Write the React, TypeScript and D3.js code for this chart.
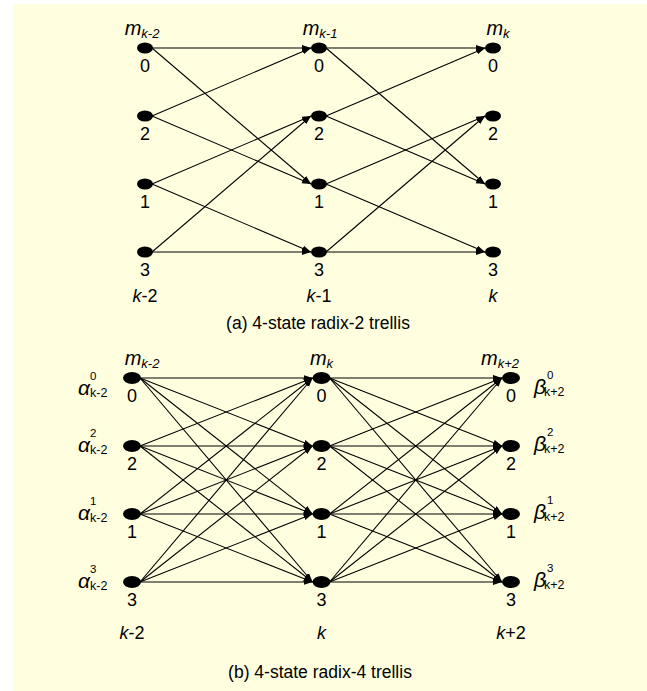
import { useEffect } from "react";
import * as d3 from "d3";

// trellis rows, top to bottom
const states = ["0", "2", "1", "3"];

// (a) radix-2
const radix2Steps = ["k-2", "k-1", "k"];
const radix2Edges: [string, string][] = [
  ["0", "0"],
  ["0", "1"],
  ["2", "0"],
  ["2", "1"],
  ["1", "2"],
  ["1", "3"],
  ["3", "2"],
  ["3", "3"],
];

// (b) radix-4, every state to every state
const radix4Steps = ["k-2", "k", "k+2"];
const radix4Edges: [string, string][] = states.flatMap((a) =>
  states.map((b) => [a, b] as [string, string])
);

const captionA = "(a) 4-state radix-2 trellis";
const captionB = "(b) 4-state radix-4 trellis";

const FONT = "'Liberation Sans', Arial, Helvetica, sans-serif";

const W = 647;
const H = 691;

// split "k-2" into italic k and the rest
function StepLabel({ x, y, s }: { x: number; y: number; s: string }) {
  return (
    <text x={x} y={y} textAnchor="middle" fontSize={18} fontFamily={FONT}>
      <tspan fontStyle="italic">k</tspan>
      <tspan>{s.slice(1)}</tspan>
    </text>
  );
}

function MLabel({ x, y, s }: { x: number; y: number; s: string }) {
  return (
    <text x={x} y={y} textAnchor="middle" fontFamily={FONT} fontStyle="italic">
      <tspan fontSize={20}>m</tspan>
      <tspan fontSize={13} dy={3}>
        {s}
      </tspan>
    </text>
  );
}

// greek letter with superscript state and subscript step, one text element
function MetricLabel(props: {
  x: number;
  base: number;
  letter: string;
  sup: string;
  sub: string;
  supDx: number;
  subDx: number;
}) {
  const { x, base } = props;
  return (
    <text x={x} y={base - 2} fontFamily={FONT}>
      <tspan fontSize={21} fontStyle="italic">
        {props.letter}
      </tspan>
      <tspan x={x + props.supDx} y={base - 17} fontSize={11.5}>
        {props.sup}
      </tspan>
      <tspan x={x + props.subDx} y={base} fontSize={12.5}>
        {props.sub}
      </tspan>
    </text>
  );
}

function Trellis(props: {
  steps: string[];
  edges: [string, string][];
  xRange: [number, number];
  yRange: [number, number];
  rx: number;
  ry: number;
  mDx: number[];
  stepY: number;
  caption: string;
  captionX: number;
  captionY: number;
}) {
  const x = d3.scalePoint<string>().domain(props.steps).range(props.xRange);
  const y = d3.scalePoint<string>().domain(states).range(props.yRange);
  const { rx, ry } = props;

  const lines: JSX.Element[] = [];
  props.steps.slice(0, -1).forEach((step, i) => {
    const next = props.steps[i + 1];
    props.edges.forEach(([a, b], j) => {
      lines.push(
        <line
          key={`${i}-${j}`}
          x1={x(step)! + rx - 1}
          y1={y(a)!}
          x2={x(next)! - rx}
          y2={y(b)!}
          stroke="#000"
          strokeWidth={1.1}
          markerEnd="url(#arr)"
        />
      );
    });
  });

  return (
    <g>
      {lines}
      {props.steps.map((step, ci) => (
        <g key={step}>
          {states.map((s) => (
            <g key={s}>
              <ellipse cx={x(step)} cy={y(s)} rx={rx} ry={ry} fill="#000" />
              <text
                x={x(step)}
                y={y(s)! + 24}
                textAnchor="middle"
                fontSize={18}
                fontFamily={FONT}
              >
                {s}
              </text>
            </g>
          ))}
          <MLabel x={x(step)! + props.mDx[ci]} y={props.yRange[0] - 13} s={step} />
          <StepLabel x={x(step)!} y={props.stepY} s={step} />
        </g>
      ))}
      <text
        x={props.captionX}
        y={props.captionY}
        textAnchor="middle"
        fontSize={17.5}
        fontFamily={FONT}
      >
        {props.caption}
      </text>
    </g>
  );
}

export default function App() {
  useEffect(() => {
    document.body.style.margin = "0";
  }, []);

  const yB = d3.scalePoint<string>().domain(states).range([378, 582]);
  const subOff = (i: number) => (i === 0 ? 19 : 8);

  return (
    <svg width={W} height={H} style={{ display: "block" }}>
      <defs>
        <marker
          id="arr"
          markerUnits="userSpaceOnUse"
          markerWidth={10}
          markerHeight={8}
          refX={9}
          refY={3}
          orient="auto"
        >
          <path d="M0,0 L9,3 L0,6 z" fill="#000" />
        </marker>
      </defs>
      <rect x={0} y={0} width={W} height={H} fill="#fff" />
      <rect x={13} y={4} width={W - 13} height={H - 4} fill="#ffffe0" />

      <Trellis
        steps={radix2Steps}
        edges={radix2Edges}
        xRange={[145, 493]}
        yRange={[48, 252]}
        rx={8}
        ry={5.5}
        mDx={[-3, 1, 5]}
        stepY={302}
        caption={captionA}
        captionX={318}
        captionY={329}
      />

      <Trellis
        steps={radix4Steps}
        edges={radix4Edges}
        xRange={[132, 511]}
        yRange={[378, 582]}
        rx={9}
        ry={6}
        mDx={[10, 0, -11]}
        stepY={639}
        caption={captionB}
        captionX={320}
        captionY={678}
      />

      {/* alpha labels, left of first column */}
      {states.map((s, i) => (
        <MetricLabel
          key={"a" + s}
          x={78}
          base={yB(s)! + subOff(i)}
          letter="α"
          sup={s}
          sub="k-2"
          supDx={12}
          subDx={12}
        />
      ))}

      {/* beta labels, right of last column */}
      {states.map((s, i) => (
        <MetricLabel
          key={"b" + s}
          x={534}
          base={yB(s)! + subOff(i) - 1}
          letter="β"
          sup={s}
          sub="k+2"
          supDx={13}
          subDx={10}
        />
      ))}
    </svg>
  );
}
